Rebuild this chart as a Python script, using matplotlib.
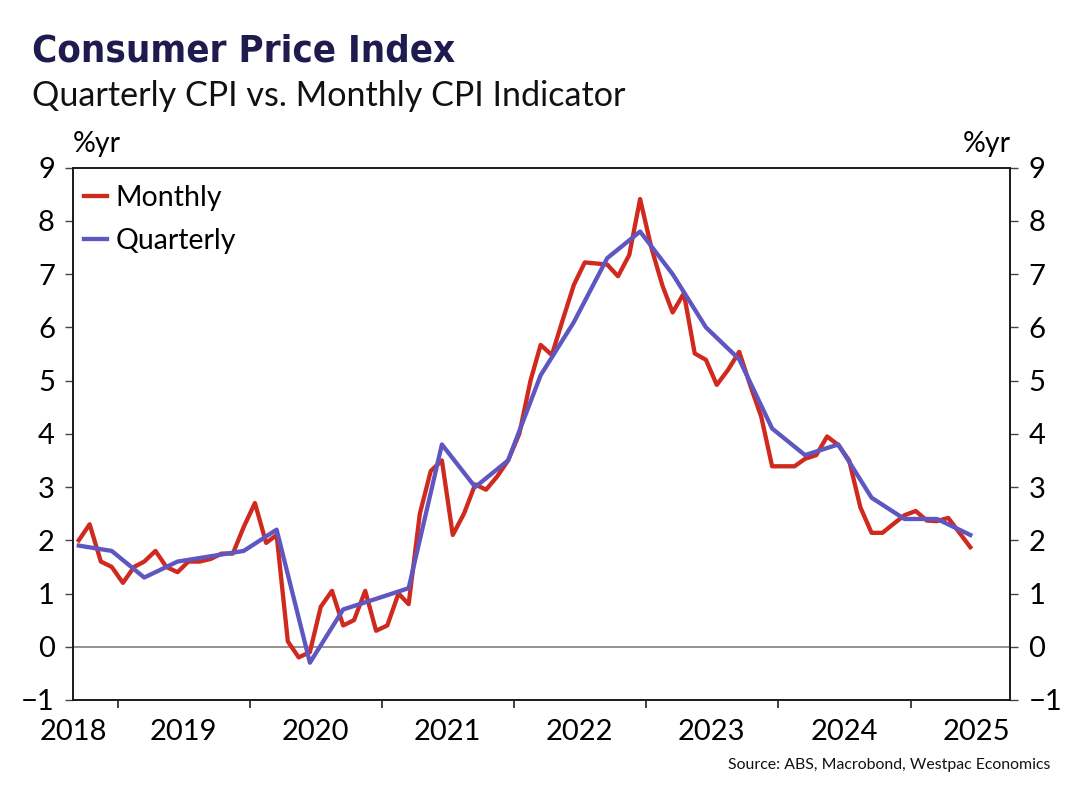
import matplotlib
matplotlib.use("Agg")
import matplotlib.pyplot as plt
import pandas as pd
from matplotlib import font_manager

# Monthly CPI Indicator, %yr (Sep 2018 - Jun 2025)
monthly = [
    2.0, 2.3, 1.6, 1.5,                                          # 2018 Sep-Dec
    1.2, 1.5, 1.6, 1.8, 1.5, 1.4, 1.6, 1.6, 1.65, 1.75, 1.75, 2.25,  # 2019
    2.7, 1.95, 2.1, 0.1, -0.2, -0.1, 0.75, 1.05, 0.4, 0.5, 1.05, 0.3,  # 2020
    0.4, 1.0, 0.8, 2.5, 3.3, 3.5, 2.1, 2.5, 3.05, 2.95, 3.2, 3.5,     # 2021
    4.0, 5.0, 5.67, 5.48, 6.14, 6.8, 7.22, 7.2, 7.18, 6.96, 7.36, 8.41,  # 2022
    7.5, 6.78, 6.28, 6.64, 5.51, 5.39, 4.92, 5.2, 5.54, 4.92, 4.32, 3.39,  # 2023
    3.39, 3.39, 3.53, 3.6, 3.95, 3.79, 3.5, 2.62, 2.14, 2.14, 2.31, 2.47,  # 2024
    2.55, 2.37, 2.36, 2.42, 2.15, 1.87,                                 # 2025 Jan-Jun
]
# Quarterly CPI, %yr (Sep qtr 2018 - Jun qtr 2025)
quarterly = [
    1.9, 1.8,
    1.3, 1.6, 1.7, 1.8,
    2.2, -0.3, 0.7, 0.9,
    1.1, 3.8, 3.0, 3.5,
    5.1, 6.1, 7.3, 7.8,
    7.0, 6.0, 5.4, 4.1,
    3.6, 3.8, 2.8, 2.4,
    2.4, 2.1,
]
m_dates = pd.date_range("2018-09-01", periods=len(monthly), freq="MS") + pd.Timedelta(days=14)
q_dates = pd.date_range("2018-09-01", periods=len(quarterly), freq="3MS") + pd.Timedelta(days=14)
year_labels = ["2018", "2019", "2020", "2021", "2022", "2023", "2024", "2025"]

RED = "#D0291E"
PURPLE = "#5E57C1"
NAVY = "#1F1B4E"

plt.rcParams["font.family"] = ["Lato", "DejaVu Sans"]

fig = plt.figure(figsize=(10.8, 8.08), dpi=100)
ax = fig.add_axes([0.0676, 0.1337, 0.9356 - 0.0676, 0.7925 - 0.1337])

ax.axhline(0, color="#8a8a8a", lw=1.3, zorder=1)
ax.plot(m_dates, monthly, color=RED, lw=3.1, label="Monthly", zorder=3)
ax.plot(q_dates, quarterly, color=PURPLE, lw=3.1, label="Quarterly", zorder=4)

x0 = pd.Timestamp("2018-08-30")
x1 = pd.Timestamp("2025-10-04")
ax.set_xlim(x0, x1)
ax.set_ylim(-1, 9)
ax.set_yticks(range(-1, 10))

# year boundary ticks, labels in the middle of each year
ax.set_xticks([pd.Timestamp(f"{y}-01-01") for y in range(2019, 2026)])
ax.set_xticklabels([])
mid = [x0] + [pd.Timestamp(f"{y}-07-01") for y in range(2019, 2026)]
ax.set_xticks(mid, minor=True)
ax.set_xticklabels(year_labels, minor=True)
ax.tick_params(axis="x", which="minor", length=0, pad=14, labelsize=21)
ax.tick_params(axis="x", which="major", direction="out", length=6, width=1.2, color="#222222")
ax.tick_params(axis="y", direction="out", length=6, width=1.0, color="#444444",
               labelsize=21, left=True, right=True, labelleft=True, labelright=True, pad=7)

for s in ax.spines.values():
    s.set_linewidth(1.4)
    s.set_color("#1a1a1a")

leg = ax.legend(loc="upper left", bbox_to_anchor=(0.012, 0.967), frameon=False,
                fontsize=20.5, handlelength=0.8, handletextpad=0.3, labelspacing=0.6,
                borderpad=0, borderaxespad=0)

# title font: a condensed heavy face if one is installed
names = {f.name for f in font_manager.fontManager.ttflist}
narrow = [n for n in ["Liberation Sans Narrow", "DejaVu Sans Condensed"] if n in names]
fig.text(0.0296, 0.9245, "Consumer Price Index", family=narrow + ["DejaVu Sans"],
         fontweight="heavy", fontstretch="condensed", fontsize=27.5, color=NAVY,
         va="baseline", ha="left")
fig.text(0.0296, 0.8688, "Quarterly CPI vs. Monthly CPI Indicator", fontsize=24.6,
         color="#111111", va="baseline", ha="left")
fig.text(0.0676, 0.8119, "%yr", fontsize=20.5, va="baseline", ha="left")
fig.text(0.9356, 0.8119, "%yr", fontsize=20.5, va="baseline", ha="right")
fig.text(0.9722, 0.0483, "Source: ABS, Macrobond, Westpac Economics", fontsize=11.4,
         va="baseline", ha="right", color="#111111")

fig.savefig("out.png", dpi=100)
